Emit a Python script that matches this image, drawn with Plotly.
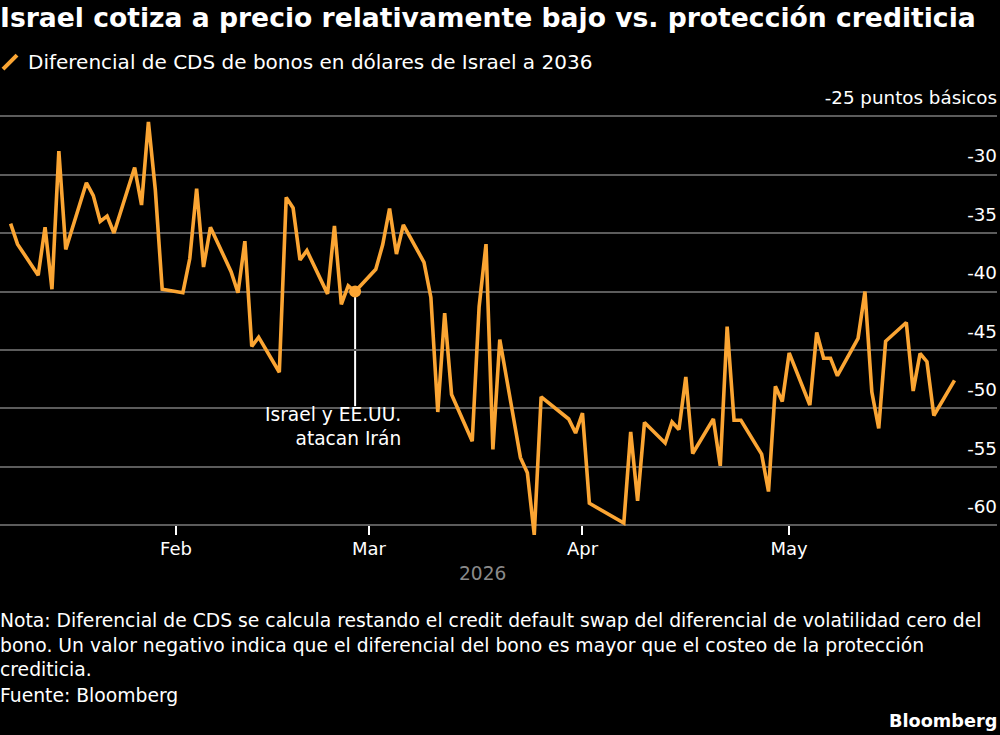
import plotly.graph_objects as go

dates = ["2026-01-08","2026-01-09","2026-01-12","2026-01-13","2026-01-14","2026-01-15","2026-01-16",
"2026-01-19","2026-01-20","2026-01-21","2026-01-22","2026-01-23","2026-01-26","2026-01-27","2026-01-28","2026-01-29","2026-01-30",
"2026-02-02","2026-02-03","2026-02-04","2026-02-05","2026-02-06","2026-02-09","2026-02-10","2026-02-11","2026-02-12","2026-02-13",
"2026-02-16","2026-02-17","2026-02-18","2026-02-19","2026-02-20","2026-02-23","2026-02-24","2026-02-25","2026-02-26","2026-02-27",
"2026-03-02","2026-03-03","2026-03-04","2026-03-05","2026-03-06","2026-03-09","2026-03-10","2026-03-11","2026-03-12","2026-03-13",
"2026-03-16","2026-03-17","2026-03-18","2026-03-19","2026-03-20","2026-03-23","2026-03-24","2026-03-25","2026-03-26",
"2026-03-30","2026-03-31","2026-04-01","2026-04-02","2026-04-07","2026-04-08","2026-04-09","2026-04-10",
"2026-04-13","2026-04-14","2026-04-15","2026-04-16","2026-04-17","2026-04-20","2026-04-21","2026-04-22","2026-04-23","2026-04-24",
"2026-04-27","2026-04-28","2026-04-29","2026-04-30","2026-05-01","2026-05-04","2026-05-05","2026-05-06","2026-05-07","2026-05-08",
"2026-05-11","2026-05-12","2026-05-13","2026-05-14","2026-05-15","2026-05-18","2026-05-19","2026-05-20","2026-05-21","2026-05-22","2026-05-25"]
values = [-34.2,-35.95,-38.6,-34.5,-39.8,-28.0,-36.4,
-30.7,-31.8,-34.0,-33.55,-35.0,-29.4,-32.6,-25.5,-31.3,-39.8,
-40.1,-37.2,-31.2,-37.9,-34.5,-38.3,-40.1,-35.7,-44.7,-43.9,
-46.9,-31.95,-32.85,-37.3,-36.5,-40.2,-34.4,-41.1,-39.5,-40.0,
-38.1,-36.0,-32.9,-36.8,-34.3,-37.5,-40.5,-50.3,-41.85,-48.8,
-52.8,-41.3,-35.95,-53.5,-44.1,-54.2,-55.5,-60.8,-49.0,
-50.9,-52.1,-50.4,-58.1,-59.8,-52.0,-57.9,-51.2,
-52.95,-51.15,-51.8,-47.3,-53.85,-50.9,-54.9,-43.0,-51.0,-51.0,
-53.9,-57.1,-48.1,-49.4,-45.25,-49.7,-43.5,-45.7,-45.7,-47.2,
-44.0,-40.0,-48.6,-51.7,-44.25,-42.65,-48.5,-45.3,-46.0,-50.6,-47.6]

event_date = ["2026-02-27"]
event_value = [-40.0]
event_label = "Israel y EE.UU.<br>atacan Irán"

y_ticks = [-25,-30,-35,-40,-45,-50,-55,-60]
y_labels = ["-25 puntos básicos","-30","-35","-40","-45","-50","-55","-60"]
x_ticks = ["2026-02-01","2026-03-01","2026-04-01","2026-05-01"]
x_labels = ["Feb","Mar","Apr","May"]

title = "Israel cotiza a precio relativamente bajo vs. protección crediticia"
legend_text = "Diferencial de CDS de bonos en dólares de Israel a 2036"
note_lines = ["Nota: Diferencial de CDS se calcula restando el credit default swap del diferencial de volatilidad cero del",
 "bono. Un valor negativo indica que el diferencial del bono es mayor que el costeo de la protección",
 "crediticia.",
 "Fuente: Bloomberg"]

ORANGE = "#FBA533"
GRID = "#5c5c5c"
FONT = "DejaVu Sans"
Y_MIN, Y_MAX = -61.5, -22
L, R, T, B = 0, 997, 80.8, 542.6
def px(x): return (x - L) / (R - L)
def py(y): return (B - y) / (B - T)

fig = go.Figure()
fig.add_trace(go.Scatter(x=dates, y=values, mode="lines", name=legend_text,
    line=dict(color=ORANGE, width=3.6, shape="linear"), cliponaxis=False, showlegend=False, hoverinfo="skip"))
fig.add_trace(go.Scatter(x=event_date, y=event_value, mode="markers",
    marker=dict(color=ORANGE, size=12), cliponaxis=False, showlegend=False, hoverinfo="skip"))

def text(s, x, y, size=18, color="#ffffff", anchor="left", bold=False, family=FONT):
    fig.add_annotation(xref="paper", yref="paper", x=px(x), y=py(y), text=("<b>%s</b>" % s) if bold else s,
        showarrow=False, xanchor=anchor, yanchor="middle", align=anchor,
        font=dict(size=size, color=color, family=family), borderpad=0, borderwidth=0)

text(title, 0, 17, size=26.6, bold=True)
text(legend_text, 28, 62, size=20)
text("2026", 482, 573, size=18.6, color="#8a8a8a", anchor="center")
for s, y in zip(note_lines, [620, 645, 669, 695]):
    text(s, 0, y, size=18.76)
text("Bloomberg", 997, 721, size=17.7, anchor="right", bold=True)

fig.add_annotation(x=event_date[0], y=-49.9, xref="x", yref="y", text=event_label, showarrow=False,
    xanchor="right", yanchor="top", align="right", xshift=48, yshift=5, font=dict(size=18.6, color="#ffffff", family=FONT))

fig.update_layout(
    width=1000, height=735, margin=dict(l=0, r=3, t=T, b=735 - B),
    paper_bgcolor="#000000", plot_bgcolor="#000000",
    font=dict(family=FONT, color="#ffffff", size=18),
    shapes=[
        dict(type="line", xref="x", yref="y", x0=event_date[0], x1=event_date[0], y0=event_value[0], y1=-49.8,
             line=dict(color="#ffffff", width=2), layer="below"),
        dict(type="line", xref="paper", yref="paper", x0=px(3), x1=px(17), y0=py(69), y1=py(55),
             line=dict(color=ORANGE, width=4)),
    ],
    xaxis=dict(type="date", range=["2026-01-06 11:00", "2026-05-31 04:00"], tickmode="array", tickvals=x_ticks, ticktext=x_labels,
        anchor="free", position=(-60 - Y_MIN) / (Y_MAX - Y_MIN),
        ticks="outside", ticklen=9, tickwidth=1.5, tickcolor="#ffffff", showgrid=False, zeroline=False, showline=False,
        ticklabelstandoff=-2, tickfont=dict(size=18, color="#ffffff", family=FONT)),
    yaxis=dict(range=[Y_MIN, Y_MAX], side="right", tickmode="array", tickvals=y_ticks, ticktext=y_labels,
        ticklabelposition="inside top", ticks="", showgrid=True, gridcolor=GRID, gridwidth=1.6, zeroline=False, showline=False,
        ticklabelshift=-6, ticklabelstandoff=-3, tickfont=dict(size=18.3, color="#ffffff", family=FONT)),
)
fig.write_html("out.html", config=dict(displayModeBar=False),
    post_script="document.body.style.margin='0';document.body.style.overflow='hidden';document.body.style.background='#000';")
